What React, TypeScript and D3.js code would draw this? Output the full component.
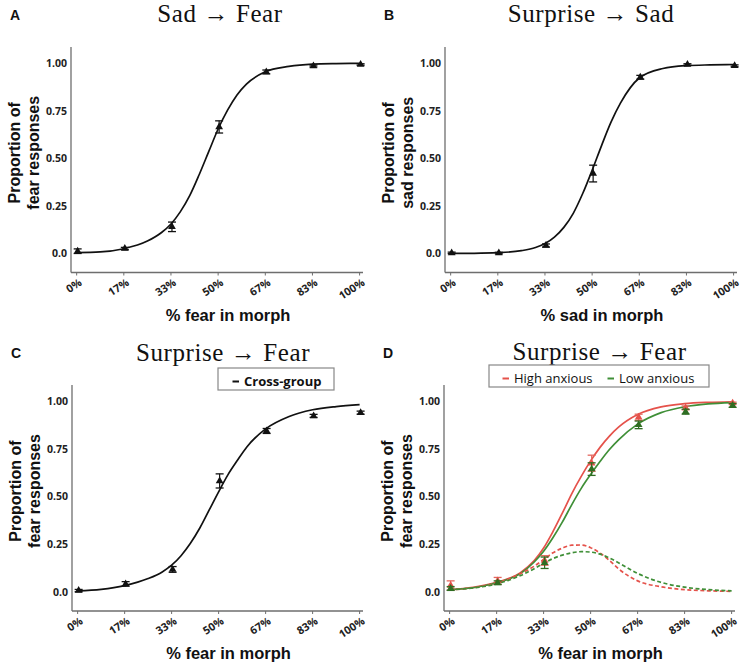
import React from 'react';
import * as d3 from 'd3';

// ---------- shared axis data ----------
const morphLevels = [0, 16.67, 33.33, 50, 66.67, 83.33, 100];
const xTickLabels = ['0%', '17%', '33%', '50%', '67%', '83%', '100%'];
const yTickValues = [0, 0.25, 0.5, 0.75, 1];
const yTickLabels = ['0.0', '0.25', '0.50', '0.75', '1.00'];
const curveGrid = [0, 8.33, 16.67, 25, 30, 33.33, 36.67, 40, 43.33, 46.67, 50, 53.33, 56.67, 60, 66.67, 75, 83.33, 91.67, 100];

// ---------- A: Sad -> Fear ----------
const sadFearMean = [0.012, 0.026, 0.14, 0.665, 0.954, 0.985, 0.993];
const sadFearErr = [0.012, 0.006, 0.025, 0.032, 0.01, 0.005, 0.004];
const sadFearFit = [0.004, 0.008, 0.025, 0.065, 0.11, 0.155, 0.22, 0.305, 0.415, 0.535, 0.654, 0.753, 0.833, 0.89, 0.955, 0.983, 0.995, 0.998, 0.999];

// ---------- B: Surprise -> Sad ----------
const surpSadMean = [0.003, 0.002, 0.042, 0.42, 0.926, 0.993, 0.986];
const surpSadErr = [0.004, 0.004, 0.008, 0.044, 0.01, 0.004, 0.005];
const surpSadFit = [0.0005, 0.001, 0.004, 0.0145, 0.031, 0.052, 0.086, 0.137, 0.211, 0.315, 0.437, 0.567, 0.69, 0.79, 0.922, 0.972, 0.987, 0.991, 0.993];

// ---------- C: Surprise -> Fear (cross-group) ----------
const crossMean = [0.007, 0.042, 0.118, 0.582, 0.844, 0.923, 0.94];
const crossErr = [0.006, 0.012, 0.015, 0.037, 0.013, 0.008, 0.008];
const crossFit = [0.005, 0.013, 0.033, 0.07, 0.105, 0.14, 0.19, 0.255, 0.335, 0.43, 0.525, 0.615, 0.69, 0.76, 0.855, 0.92, 0.955, 0.972, 0.982];

// ---------- D: Surprise -> Fear (high vs low anxious) ----------
const highMean = [0.034, 0.058, 0.165, 0.675, 0.916, 0.965, 0.99];
const highErr = [0.024, 0.018, 0.025, 0.042, 0.016, 0.01, 0.005];
const lowMean = [0.018, 0.048, 0.153, 0.644, 0.876, 0.945, 0.978];
const lowErr = [0.01, 0.01, 0.03, 0.033, 0.02, 0.013, 0.01];
const highFit = [0.012, 0.024, 0.05, 0.1, 0.164, 0.23, 0.317, 0.414, 0.516, 0.606, 0.687, 0.758, 0.817, 0.865, 0.93, 0.97, 0.987, 0.994, 0.997];
const lowFit = [0.012, 0.022, 0.048, 0.095, 0.157, 0.213, 0.285, 0.367, 0.458, 0.543, 0.616, 0.684, 0.747, 0.799, 0.88, 0.94, 0.971, 0.986, 0.993];
const highHump = [0.012, 0.022, 0.046, 0.095, 0.135, 0.17, 0.205, 0.23, 0.245, 0.246, 0.232, 0.204, 0.165, 0.12, 0.058, 0.027, 0.012, 0.006, 0.003];
const lowHump = [0.012, 0.021, 0.042, 0.085, 0.122, 0.15, 0.175, 0.193, 0.205, 0.211, 0.209, 0.198, 0.178, 0.152, 0.097, 0.05, 0.025, 0.012, 0.006];

const RED = '#e5524b';
const RED_ERR = '#e4675f';
const GREEN = '#3f8f37';
const GREEN_MK = '#2f6d22';

const SANS = '"Open Sans", "Liberation Sans", sans-serif';
const TITLE_SANS = '"Liberation Sans", Arial, sans-serif';
const SERIF = '"Liberation Serif", "DejaVu Serif", serif';

type Series = {
  mean: number[];
  err: number[];
  marker: string;
  errColor: string;
};
type Fit = { values: number[]; color: string; dash?: string };

type PanelCfg = {
  letter: string;
  title: string;
  titleX: number;
  titleY: number;
  xLabel: string;
  yLabel2: string;
  left: number;
  right: number;
  top: number;
  bottom: number;
  fits: Fit[];
  series: Series[];
  legend?: { x: number; y: number; w: number; h: number; items: { label: string; color: string; bold: boolean; x: number }[] };
};

const tri = d3.symbol().type(d3.symbolTriangle).size(26)() as string;

function Panel({ cfg }: { cfg: PanelCfg }) {
  const x = d3.scaleLinear().domain([-2, 101.2]).range([cfg.left, cfg.right]);
  const y = d3.scaleLinear().domain([-0.1, 1.085]).range([cfg.bottom, cfg.top]);
  const line = d3
    .line<number>()
    .x((_, i) => x(curveGrid[i]))
    .y((d) => y(d))
    .curve(d3.curveMonotoneX);
  const midY = (cfg.top + cfg.bottom) / 2 - 7;
  const midX = (cfg.left + cfg.right) / 2 + 11;
  return (
    <g>
      <text x={cfg.left - 61} y={cfg.top - 27} fontFamily={TITLE_SANS} fontWeight={700} fontSize={14} fill="#111">
        {cfg.letter}
      </text>
      <text x={cfg.titleX} y={cfg.titleY} textAnchor="middle" fontFamily={SERIF} fontSize={25} letterSpacing={0.6} fill="#111">
        {cfg.title}
      </text>
      {/* axes */}
      <line x1={cfg.left} x2={cfg.left} y1={cfg.top} y2={cfg.bottom} stroke="#6e6e6e" strokeWidth={1.3} />
      <line x1={cfg.left} x2={cfg.right} y1={cfg.bottom} y2={cfg.bottom} stroke="#6e6e6e" strokeWidth={1.3} />
      {morphLevels.map((m, i) => (
        <g key={i}>
          <line x1={x(m)} x2={x(m)} y1={cfg.bottom} y2={cfg.bottom + 3} stroke="#6e6e6e" strokeWidth={1} />
          <text
            transform={`translate(${x(m) + 6},${cfg.bottom + 12}) rotate(-33)`}
            textAnchor="end"
            fontFamily={SANS}
            fontWeight={700}
            fontSize={10.8}
            fill="#222"
          >
            {xTickLabels[i]}
          </text>
        </g>
      ))}
      {yTickValues.map((v, i) => (
        <text key={i} x={cfg.left - 4} y={y(v) + 3.8} textAnchor="end" fontFamily={SANS} fontWeight={700} fontSize={10.5} fill="#222">
          {yTickLabels[i]}
        </text>
      ))}
      <text x={midX} y={cfg.bottom + 48} textAnchor="middle" fontFamily={TITLE_SANS} fontWeight={700} fontSize={16.5} fill="#111">
        {cfg.xLabel}
      </text>
      <g transform={`translate(${cfg.left - 51},${midY}) rotate(-90)`}>
        <text x={0} y={0} textAnchor="middle" fontFamily={TITLE_SANS} fontWeight={700} fontSize={16} fill="#111">
          Proportion of
        </text>
        <text x={0} y={18.5} textAnchor="middle" fontFamily={TITLE_SANS} fontWeight={700} fontSize={16} fill="#111">
          {cfg.yLabel2}
        </text>
      </g>
      {/* fits */}
      {cfg.fits.map((f, i) => (
        <path key={i} d={line(f.values) as string} fill="none" stroke={f.color} strokeWidth={1.7} strokeDasharray={f.dash} />
      ))}
      {/* data */}
      {cfg.series.map((s, si) => (
        <g key={si}>
          {s.mean.map((m, i) => {
            const cx = x(morphLevels[i]) + 1;
            const y1 = y(m + s.err[i]);
            const y2 = y(m - s.err[i]);
            return (
              <g key={i}>
                <line x1={cx} x2={cx} y1={y1} y2={y2} stroke={s.errColor} strokeWidth={1.2} />
                <line x1={cx - 4} x2={cx + 4} y1={y1} y2={y1} stroke={s.errColor} strokeWidth={1.3} />
                <line x1={cx - 4} x2={cx + 4} y1={y2} y2={y2} stroke={s.errColor} strokeWidth={1.3} />
                <path d={tri} transform={`translate(${cx},${y(m)})`} fill={s.marker} />
              </g>
            );
          })}
        </g>
      ))}
      {cfg.legend && (
        <g>
          <rect x={cfg.legend.x} y={cfg.legend.y} width={cfg.legend.w} height={cfg.legend.h} fill="#fff" stroke="#888" strokeWidth={1.2} />
          {cfg.legend.items.map((it, i) => (
            <g key={i}>
              <line x1={it.x} x2={it.x + 6.5} y1={cfg.legend!.y + 13.5} y2={cfg.legend!.y + 13.5} stroke={it.color} strokeWidth={2} />
              <text x={it.x + 11.5} y={cfg.legend!.y + 17.5} fontFamily={SANS} fontWeight={it.bold ? 700 : 400} fontSize={13} fill="#111">
                {it.label}
              </text>
            </g>
          ))}
        </g>
      )}
    </g>
  );
}

const panels: PanelCfg[] = [
  {
    letter: 'A',
    title: 'Sad → Fear',
    titleX: 220,
    titleY: 22,
    xLabel: '% fear in morph',
    yLabel2: 'fear responses',
    left: 71,
    right: 363,
    top: 47,
    bottom: 272.5,
    fits: [{ values: sadFearFit, color: '#111' }],
    series: [{ mean: sadFearMean, err: sadFearErr, marker: '#111', errColor: '#111' }],
  },
  {
    letter: 'B',
    title: 'Surprise → Sad',
    titleX: 591,
    titleY: 22,
    xLabel: '% sad in morph',
    yLabel2: 'sad responses',
    left: 445,
    right: 737,
    top: 47,
    bottom: 272.5,
    fits: [{ values: surpSadFit, color: '#111' }],
    series: [{ mean: surpSadMean, err: surpSadErr, marker: '#111', errColor: '#111' }],
  },
  {
    letter: 'C',
    title: 'Surprise → Fear',
    titleX: 223,
    titleY: 361,
    xLabel: '% fear in morph',
    yLabel2: 'fear responses',
    left: 72,
    right: 363,
    top: 385,
    bottom: 611,
    fits: [{ values: crossFit, color: '#111' }],
    series: [{ mean: crossMean, err: crossErr, marker: '#111', errColor: '#111' }],
    legend: { x: 218, y: 368, w: 116, h: 22, items: [{ label: 'Cross-group', color: '#111', bold: true, x: 232.5 }] },
  },
  {
    letter: 'D',
    title: 'Surprise → Fear',
    titleX: 599.5,
    titleY: 360,
    xLabel: '% fear in morph',
    yLabel2: 'fear responses',
    left: 444,
    right: 735,
    top: 385,
    bottom: 611,
    fits: [
      { values: highFit, color: RED },
      { values: lowFit, color: GREEN },
      { values: highHump, color: RED, dash: '4,2.5' },
      { values: lowHump, color: GREEN, dash: '4,2.5' },
    ],
    series: [
      { mean: highMean, err: highErr, marker: RED, errColor: RED_ERR },
      { mean: lowMean, err: lowErr, marker: GREEN_MK, errColor: GREEN_MK },
    ],
    legend: {
      x: 489,
      y: 365,
      w: 220,
      h: 22,
      items: [
        { label: 'High anxious', color: RED, bold: false, x: 502.5 },
        { label: 'Low anxious', color: GREEN, bold: false, x: 607.5 },
      ],
    },
  },
];

export default function App() {
  return (
    <svg
      width={750}
      height={671}
      viewBox="0 0 750 671"
      style={{ position: 'absolute', left: 0, top: 0, background: '#fff', display: 'block' }}
    >
      <rect x={0} y={0} width={750} height={671} fill="#fff" />
      {panels.map((p, i) => (
        <Panel key={i} cfg={p} />
      ))}
    </svg>
  );
}
